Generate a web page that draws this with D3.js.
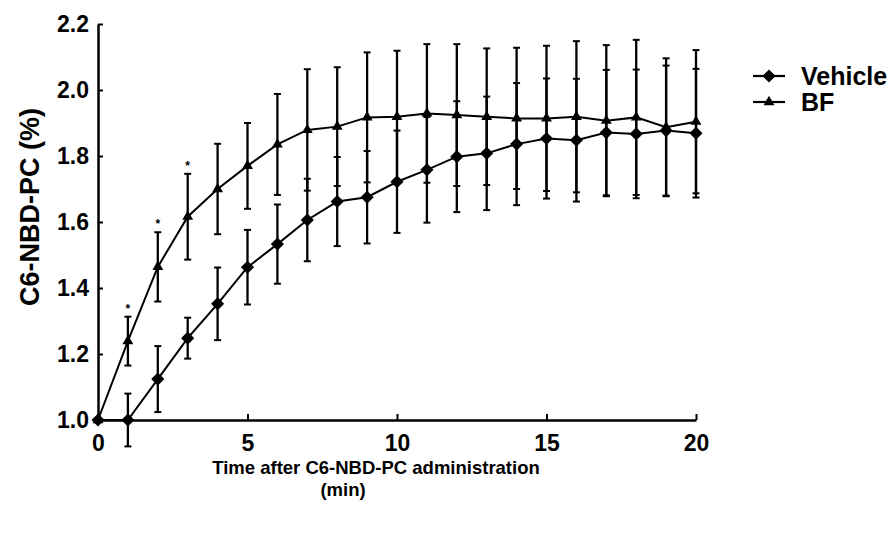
<!DOCTYPE html>
<html>
<head>
<meta charset="utf-8">
<script src="https://cdn.jsdelivr.net/npm/d3@7"></script>
<style>
  body { margin: 0; background: #fff; }
  svg text { font-family: "Liberation Sans", Arial, sans-serif; font-weight: bold; fill: #000; }
</style>
</head>
<body>
<div id="chart"></div>
<script>
const minutes = [0, 1, 2, 3, 4, 5, 6, 7, 8, 9, 10, 11, 12, 13, 14, 15, 16, 17, 18, 19, 20];
const vehicleMean = [1.0, 1.0, 1.124, 1.248, 1.352, 1.463, 1.533, 1.606, 1.662, 1.675, 1.722,
    1.758, 1.798, 1.808, 1.836, 1.853, 1.848, 1.871, 1.867, 1.877, 1.869];
const vehicleSd = [0, 0.08, 0.1, 0.062, 0.11, 0.113, 0.12, 0.125, 0.135, 0.14, 0.155,
    0.16, 0.168, 0.172, 0.185, 0.182, 0.186, 0.19, 0.195, 0.197, 0.195];
const bfMean = [1.0, 1.239, 1.464, 1.616, 1.70, 1.77, 1.835, 1.879, 1.889, 1.917, 1.919,
    1.929, 1.924, 1.919, 1.914, 1.914, 1.919, 1.907, 1.917, 1.887, 1.904];
const bfSd = [0, 0.074, 0.105, 0.13, 0.137, 0.13, 0.153, 0.184, 0.18, 0.197, 0.2,
    0.21, 0.215, 0.207, 0.214, 0.22, 0.229, 0.229, 0.235, 0.209, 0.217];
const significant = [1, 2, 3]; // minutes marked with *
const xTicks = [0, 5, 10, 15, 20];
const yTicks = [1.0, 1.2, 1.4, 1.6, 1.8, 2.0, 2.2];

const WIDTH = 896, HEIGHT = 536;
const PLOT = {left: 98, right: 696, top: 24, bottom: 420};

const svg = d3.select('#chart').append('svg')
    .attr('width', WIDTH)
    .attr('height', HEIGHT);

const x = d3.scaleLinear().domain([0, 20]).range([PLOT.left, PLOT.right]);
const y = d3.scaleLinear().domain([1.0, 2.2]).range([PLOT.bottom, PLOT.top]);

const series = [
    {name: 'Vehicle', mean: vehicleMean, sd: vehicleSd, symbol: d3.symbolDiamond2, size: 110},
    {name: 'BF', mean: bfMean, sd: bfSd, symbol: d3.symbolTriangle2, size: 85}
];

// error bars first, so lines and markers sit on top
series.forEach(s => {
    const g = svg.append('g').attr('id', `${s.name} errors`);
    minutes.forEach((m, i) => {
        if (!s.sd[i]) return;
        const top = y(s.mean[i] + s.sd[i]), bot = y(s.mean[i] - s.sd[i]);
        g.append('line')
            .attr('x1', x(m)).attr('x2', x(m))
            .attr('y1', top).attr('y2', bot)
            .attr('stroke', '#000').attr('stroke-width', 2.3);
        [top, bot].forEach(cy => {
            g.append('line')
                .attr('x1', x(m) - 3.5).attr('x2', x(m) + 3.5)
                .attr('y1', cy).attr('y2', cy)
                .attr('stroke', '#000').attr('stroke-width', 2);
        });
    });
});

// significance marks above BF bars
svg.append('g').selectAll('text')
    .data(significant)
    .enter().append('text')
    .attr('x', m => x(m))
    .attr('y', m => y(bfMean[m] + bfSd[m]) - 4)
    .attr('text-anchor', 'middle')
    .style('font-size', '12px')
    .text('*');

// axes
const yAxis = svg.append('g')
    .attr('transform', `translate(${PLOT.left},0)`)
    .call(d3.axisLeft(y).tickValues(yTicks).tickFormat(d3.format('.1f'))
        .tickSizeInner(-5).tickSizeOuter(0).tickPadding(9));
const xAxis = svg.append('g')
    .attr('transform', `translate(0,${PLOT.bottom})`)
    .call(d3.axisBottom(x).tickValues(xTicks).tickFormat(d3.format('d'))
        .tickSizeInner(-6).tickSizeOuter(0).tickPadding(10));

[yAxis, xAxis].forEach(a => {
    a.select('.domain').attr('stroke', '#000').attr('stroke-width', 2.5);
    a.selectAll('.tick line').attr('stroke', '#000').attr('stroke-width', 2);
    a.selectAll('.tick text').style('font-size', '23px').attr('fill', '#000');
});
xAxis.selectAll('.tick text').attr('dy', '0.9em');

// lines and markers
const line = d3.line()
    .x((d, i) => x(minutes[i]))
    .y(d => y(d));

series.forEach(s => {
    svg.append('path')
        .datum(s.mean)
        .attr('id', `${s.name} line`)
        .attr('fill', 'none')
        .attr('stroke', '#000')
        .attr('stroke-width', 2)
        .attr('d', line);

    svg.append('g').selectAll('path')
        .data(s.mean)
        .enter().append('path')
        .attr('transform', (d, i) => `translate(${x(minutes[i])},${y(d)})`)
        .attr('d', d3.symbol().type(s.symbol).size(s.size))
        .attr('fill', '#000');
});

// axis titles
svg.append('text')
    .attr('x', 376).attr('y', 474)
    .attr('text-anchor', 'middle')
    .style('font-size', '18.5px')
    .text('Time after C6-NBD-PC administration');
svg.append('text')
    .attr('x', 343).attr('y', 496)
    .attr('text-anchor', 'middle')
    .style('font-size', '18.5px')
    .text('(min)');
svg.append('text')
    .attr('transform', 'translate(39,207) rotate(-90)')
    .attr('text-anchor', 'middle')
    .style('font-size', '27px')
    .text('C6-NBD-PC (%)');

// legend
const legend = svg.append('g').attr('id', 'Legend');
series.forEach((s, i) => {
    const cy = 76 + i * 26;
    legend.append('line')
        .attr('x1', 753).attr('x2', 785)
        .attr('y1', cy).attr('y2', cy)
        .attr('stroke', '#000').attr('stroke-width', 2.2);
    legend.append('path')
        .attr('transform', `translate(769,${cy})`)
        .attr('d', d3.symbol().type(s.symbol).size(s.size))
        .attr('fill', '#000');
    legend.append('text')
        .attr('x', 801).attr('y', cy)
        .attr('dy', '0.36em')
        .style('font-size', '25px')
        .text(s.name);
});
</script>
</body>
</html>
